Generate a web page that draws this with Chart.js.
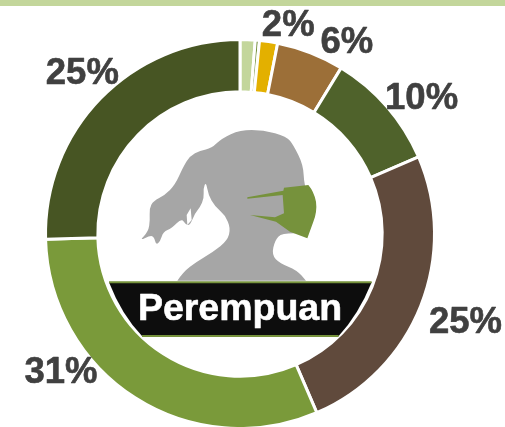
<!DOCTYPE html>
<html>
<head>
<meta charset="utf-8">
<style>
html,body{margin:0;padding:0;background:#fff;overflow:hidden}
#bar{position:absolute;left:0;top:0;width:505px;height:6px;background:#c3d69b}
#wrap{position:absolute;left:0;top:0;width:505px;height:427px}
</style>
<script src="https://cdn.jsdelivr.net/npm/chart.js@4"></script>
</head>
<body>
<div id="wrap"><canvas id="c" width="505" height="427"></canvas></div>
<div id="bar"></div>
<script>
const categories = ['A','B','C','D','E','F','G','H'];
const values = [1.25,0.35,1.5,5.6,9.8,25,31,25.4];
const valueLabels = ['','','2%','6%','10%','25%','31%','25%'];
const colors = ['#c3d69b','#76923c','#e3b000','#9c6f38','#4f622b','#604a3c','#7a9a3a','#475523'];
const labelRadius = [0,0,212,212,222,246,245,248];
const labelNudge = [[0,0],[0,0],[17,2],[30,7],[14,11],[-3,-2],[-47,-67],[20,13]];
const centerTitle = 'Perempuan';
const headOutline = [[232,482],[250,455],[290,425],[340,395],[382,362],[392,325],[375,285],[345,260],[325,225],[318,185],[310,205],[312,235],[300,262],[285,280],[270,315],[258,315],[245,295],[215,325],[190,335],[180,365],[168,375],[162,350],[150,347],[118,362],[145,335],[150,300],[148,265],[160,243],[195,225],[225,195],[250,140],[270,108],[300,92],[335,85],[365,55],[420,30],[490,30],[560,50],[580,75],[610,135],[612,195],[640,280],[620,340],[545,340],[525,360],[515,405],[540,430],[590,450],[618,482]];

function smoothPath(ctx,pts){
  ctx.beginPath();
  ctx.moveTo(pts[0][0],pts[0][1]);
  for(let i=1;i<pts.length-1;i++){
    const mx=(pts[i][0]+pts[i+1][0])/2,my=(pts[i][1]+pts[i+1][1])/2;
    ctx.quadraticCurveTo(pts[i][0],pts[i][1],mx,my);
  }
  const l=pts[pts.length-1];
  ctx.lineTo(l[0],l[1]);
  ctx.closePath();
}

const overlay = {
  id:'overlay',
  afterDatasetsDraw(chart){
    const ctx = chart.ctx;
    const arcs = chart.getDatasetMeta(0).data;
    ctx.save();
    ctx.translate(100,120); ctx.scale(1/3,1/3);
    ctx.fillStyle='#a6a6a6';
    smoothPath(ctx,headOutline); ctx.fill();
    ctx.fillStyle='#ffffff';
    ctx.fill(new Path2D('M272,265 L260,285 L262,315 L275,300 Z'));
    ctx.fillStyle='#76923c';
    ctx.fill(new Path2D('M442,232 L550,212 L552,203 L625,195 Q642,215 648,245 Q652,275 640,305 L622,355 L570,335 L528,305 L450,285 L525,292 L552,280 L548,225 L442,236 Z'));
    ctx.fillStyle='#0d0d0d'; ctx.strokeStyle='#76923c'; ctx.lineWidth=6;
    ctx.fill(new Path2D('M27,487 L815,487 Q775,585 716,648 L126,648 Q65,585 27,487 Z'));
    ctx.beginPath(); ctx.moveTo(27,487); ctx.lineTo(815,487); ctx.moveTo(126,648); ctx.lineTo(716,648); ctx.stroke();
    ctx.restore();

    ctx.save();
    ctx.textAlign='center'; ctx.textBaseline='middle';
    ctx.lineJoin='round';
    ctx.fillStyle='#ffffff'; ctx.strokeStyle='#ffffff'; ctx.lineWidth=0.6;
    ctx.font='bold 37.5px "Liberation Sans"';
    ctx.fillText(centerTitle, arcs[0].x, 310);
    ctx.strokeText(centerTitle, arcs[0].x, 310);
    ctx.fillStyle='#404040'; ctx.strokeStyle='#404040';
    ctx.font='bold 36.5px "Liberation Sans"';
    arcs.forEach((a,i)=>{
      if(!valueLabels[i]) return;
      const m=(a.startAngle+a.endAngle)/2;
      const x=a.x+Math.cos(m)*labelRadius[i]+labelNudge[i][0], y=a.y+Math.sin(m)*labelRadius[i]+labelNudge[i][1];
      ctx.fillText(valueLabels[i],x,y);
      ctx.strokeText(valueLabels[i],x,y);
    });
    ctx.restore();
  }
};

new Chart(document.getElementById('c'),{
  type:'doughnut',
  data:{labels:categories,datasets:[{data:values,backgroundColor:colors,borderColor:'#ffffff',borderWidth:3}]},
  options:{
    responsive:false,animation:false,
    radius:194.5,cutout:140,
    layout:{padding:{left:0,right:25,top:41,bottom:0}},
    plugins:{legend:{display:false},tooltip:{enabled:false}}
  },
  plugins:[overlay]
});
</script>
</body>
</html>
